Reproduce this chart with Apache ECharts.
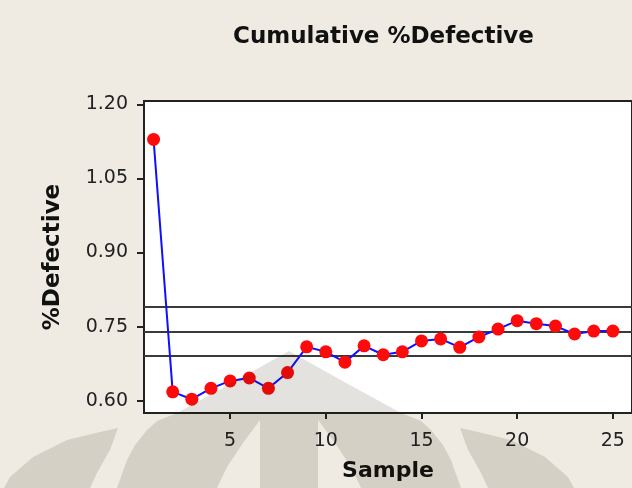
<!DOCTYPE html>
<html>
<head>
<meta charset="utf-8">
<script src="https://cdn.jsdelivr.net/npm/echarts@6/dist/echarts.min.js"></script>
<style>
html,body{margin:0;padding:0;background:#efebe3;}
#c{width:632px;height:488px;}
</style>
</head>
<body>
<div id="c"></div>
<script>
// Data
var samples = [1,2,3,4,5,6,7,8,9,10,11,12,13,14,15,16,17,18,19,20,21,22,23,24,25];
var cumDefective = [1.129,0.618,0.603,0.625,0.640,0.646,0.625,0.657,0.709,0.699,0.678,0.711,0.693,0.699,0.721,0.725,0.708,0.729,0.745,0.762,0.756,0.751,0.735,0.741,0.741];
var refLines = [0.788, 0.736, 0.694];
var yTicks = [0.60, 0.75, 0.90, 1.05, 1.20];
var xTicks = [5, 10, 15, 20, 25];

var chart = echarts.init(document.getElementById('c'));

// watermark outline (decoration), mirrored about x = 289
var cx = 289;
function mirror(pts){ return pts.map(function(p){ return [2*cx - p[0], p[1]]; }); }
var petalA = [[118,428],[100,432],[67,440],[33,457],[10,477],[4,488],[90,488],[97,473],[110,450]];
var domeLeft = [[289,351],[230,384],[177,413],[157,421],[147,430],[135,445],[127,460],[117,488],[217,488],[227,467],[243,443],[260,420],[260,488]];
var domeRight = mirror(domeLeft).reverse();
var dome = domeLeft.concat(domeRight);
var wmFill = 'rgba(30,20,0,0.125)';

var option = {
  backgroundColor: '#efebe3',
  animation: false,
  title: {
    text: 'Cumulative %Defective',
    left: 233, top: 26, padding: 0,
    textStyle: {fontFamily: 'DejaVu Sans', fontWeight: 'bold', fontSize: 23, color: '#111'}
  },
  grid: {
    left: 144, top: 101, width: 500, height: 312,
    show: true, backgroundColor: '#ffffff', borderColor: '#222', borderWidth: 2
  },
  xAxis: {
    type: 'value', min: 0.5, max: 26,
    name: 'Sample', nameLocation: 'middle', nameGap: 47,
    nameTextStyle: {fontFamily: 'DejaVu Sans', fontWeight: 'bold', fontSize: 22, color: '#111'},
    axisLine: {show: true, onZero: false, lineStyle: {color: '#222', width: 2}},
    axisTick: {show: true, inside: false, length: 6, customValues: xTicks, lineStyle: {color: '#222', width: 2}},
    axisLabel: {customValues: xTicks, margin: 19, fontFamily: 'DejaVu Sans', fontSize: 19, color: '#222'},
    splitLine: {show: false}
  },
  yAxis: {
    type: 'value', min: 0.5751, max: 1.2067,
    name: '%Defective', nameLocation: 'middle', nameGap: 79,
    nameTextStyle: {fontFamily: 'DejaVu Sans', fontWeight: 'bold', fontSize: 23, color: '#111'},
    axisLine: {show: true, onZero: false, lineStyle: {color: '#222', width: 2}},
    axisTick: {show: true, inside: false, length: 7, customValues: yTicks, lineStyle: {color: '#222', width: 2}},
    axisLabel: {customValues: yTicks, margin: 16, fontFamily: 'DejaVu Sans', fontSize: 19, color: '#222',
      formatter: function(v){ return v.toFixed(2); }},
    splitLine: {show: false}
  },
  series: [{
    type: 'line',
    data: samples.map(function(s, i){ return [s, cumDefective[i]]; }),
    symbol: 'circle', symbolSize: 13,
    itemStyle: {color: '#ff0a0a'},
    lineStyle: {color: '#1010ff', width: 2},
    z: 5,
    markLine: {
      silent: true, symbol: 'none', z: 3,
      label: {show: false},
      lineStyle: {color: '#3a3a3a', width: 2, type: 'solid'},
      data: refLines.map(function(v){ return {yAxis: v}; })
    }
  }],
  graphic: [
    {type: 'polygon', z: 100, silent: true, shape: {points: dome}, style: {fill: wmFill}},
    {type: 'polygon', z: 100, silent: true, shape: {points: petalA}, style: {fill: wmFill}},
    {type: 'polygon', z: 100, silent: true, shape: {points: mirror(petalA)}, style: {fill: wmFill}}
  ]
};
chart.setOption(option);
</script>
</body>
</html>
